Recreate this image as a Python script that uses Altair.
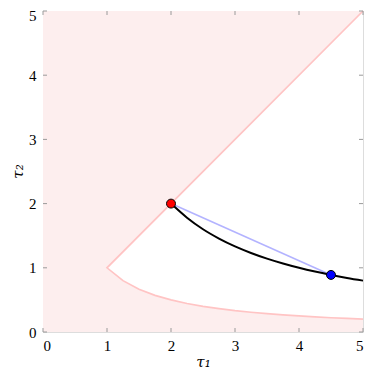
import altair as alt
import pandas as pd

# ---- data ----
tick_vals = [0, 1, 2, 3, 4, 5]

# lower boundary curve of the feasible wedge
bound_x = [1.0, 1.25, 1.5, 1.75, 2.0, 2.25, 2.5, 2.75, 3.0, 3.25, 3.5, 3.75, 4.0, 4.25, 4.5, 4.75, 5.0]
bound_y = [1.0, 0.8, 0.667, 0.571, 0.5, 0.444, 0.4, 0.364, 0.333, 0.308, 0.286, 0.267, 0.25, 0.235, 0.222, 0.211, 0.2]

# diagonal upper boundary
diag_x = [5.0, 1.0]
diag_y = [5.0, 1.0]

# black curve
curve_x = [2.0, 2.25, 2.5, 2.75, 3.0, 3.25, 3.5, 3.75, 4.0, 4.25, 4.5, 4.75, 5.0]
curve_y = [2.0, 1.78, 1.6, 1.455, 1.333, 1.231, 1.143, 1.067, 1.0, 0.941, 0.889, 0.842, 0.8]

# blue chord
chord_x = [2.0, 4.5]
chord_y = [2.0, 0.889]

# points
pts_x = [2.0, 4.5]
pts_y = [2.0, 0.889]
pts_c = ["#ff0000", "#0000ff"]

FILL = "#fdeeee"
EDGE = "#ffc4c4"
W, H = 320, 321
LF = "Liberation Serif"
TF = "DejaVu Serif"

xs = alt.Scale(domain=[0, 5], nice=False)
ys = alt.Scale(domain=[0, 5], nice=False)

upper_df = pd.DataFrame({"x": [0.0, 1.0, 5.0], "y": [5.0, 5.0, 5.0], "y2": [0.0, 1.0, 5.0]})
lower_df = pd.DataFrame({"x": [0.0] + bound_x, "y": [0.0] * (len(bound_x) + 1), "y2": [1.0] + bound_y})

area_up = alt.Chart(upper_df).mark_area(color=FILL, opacity=1).encode(
    x=alt.X("x:Q", scale=xs, title="τ₁",
            axis=alt.Axis(values=tick_vals, format="d", grid=False, ticks=False, domain=False,
                          labelFont=LF, labelFontSize=15, labelColor="black",
                          labelPadding=6, titleFont=TF, titleFontSize=15,
                          titleFontWeight="normal", titleFontStyle="italic", titleColor="black",
                          titleBaseline="middle", titleY=29)),
    y=alt.Y("y:Q", scale=ys, title="τ₂",
            axis=alt.Axis(values=tick_vals, format="d", grid=False, ticks=False, domain=False,
                          labelFont=LF, labelFontSize=15, labelColor="black",
                          labelPadding=7,
                          labelOffset=alt.condition("datum.value == 5", alt.value(4), alt.value(0)),
                          titleFont=TF, titleFontSize=15,
                          titleFontWeight="normal", titleFontStyle="italic", titleColor="black",
                          titleBaseline="middle", titleX=-26, titleY=160)),
    y2="y2:Q",
)
area_low = alt.Chart(lower_df).mark_area(color=FILL, opacity=1).encode(
    x=alt.X("x:Q", scale=xs), y=alt.Y("y:Q", scale=ys), y2="y2:Q"
)

edge_df = pd.DataFrame({
    "x": diag_x + bound_x[1:],
    "y": diag_y + bound_y[1:],
})
edge_df["o"] = range(len(edge_df))
edge = alt.Chart(edge_df).mark_line(color=EDGE, strokeWidth=1.7).encode(
    x=alt.X("x:Q", scale=xs), y=alt.Y("y:Q", scale=ys), order="o:Q"
)

chord = alt.Chart(pd.DataFrame({"x": chord_x, "y": chord_y})).mark_line(
    color="#b3b3ff", strokeWidth=1.6).encode(x=alt.X("x:Q", scale=xs), y=alt.Y("y:Q", scale=ys))

curve = alt.Chart(pd.DataFrame({"x": curve_x, "y": curve_y})).mark_line(
    color="black", strokeWidth=2, interpolate="monotone").encode(
    x=alt.X("x:Q", scale=xs), y=alt.Y("y:Q", scale=ys))

pts = alt.Chart(pd.DataFrame({"x": pts_x, "y": pts_y, "c": pts_c})).mark_point(
    filled=True, size=80, stroke="black", strokeWidth=1, opacity=1).encode(
    x=alt.X("x:Q", scale=xs), y=alt.Y("y:Q", scale=ys),
    fill=alt.Fill("c:N", scale=None))

tdf = pd.DataFrame({"v": tick_vals})
TC = "#9a9a9a"
tb = alt.Chart(tdf).mark_rule(color=TC, strokeWidth=1).encode(
    x=alt.X("v:Q", scale=xs), y=alt.value(H), y2=alt.value(H - 4))
tt = alt.Chart(tdf).mark_rule(color=TC, strokeWidth=1).encode(
    x=alt.X("v:Q", scale=xs), y=alt.value(0), y2=alt.value(4))
tl = alt.Chart(tdf).mark_rule(color=TC, strokeWidth=1).encode(
    y=alt.Y("v:Q", scale=ys), x=alt.value(0), x2=alt.value(4))
tr = alt.Chart(tdf).mark_rule(color=TC, strokeWidth=1).encode(
    y=alt.Y("v:Q", scale=ys), x=alt.value(W), x2=alt.value(W - 4))

chart = alt.layer(area_up, area_low, edge, chord, curve, tb, tt, tl, tr, pts).properties(
    width=W, height=H,
    autosize=alt.AutoSizeParams(type="none"),
    padding={"left": 35, "top": 3, "right": 3, "bottom": 38},
).configure_view(stroke="black", strokeWidth=1.2).configure(background="white")

chart.save("out.html", embed_options={"renderer": "svg", "actions": False})
